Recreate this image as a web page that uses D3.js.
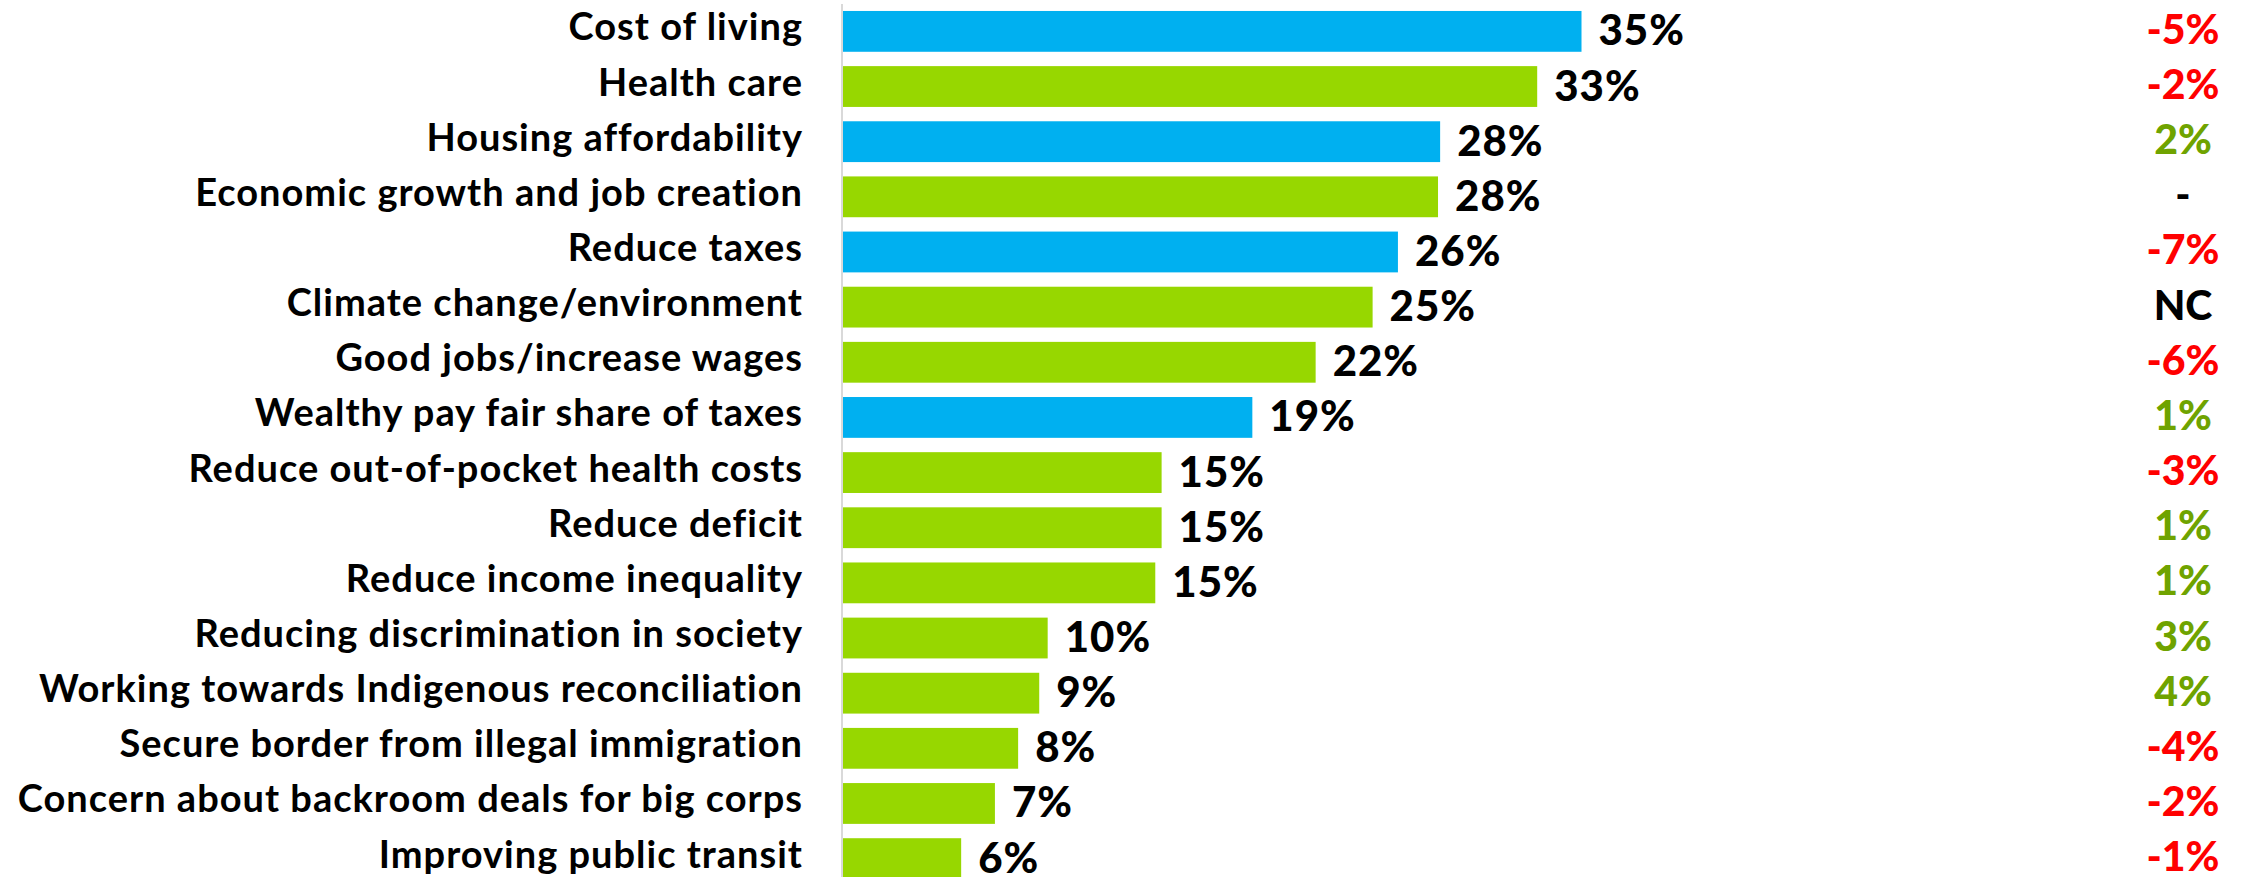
<!DOCTYPE html>
<html>
<head>
<meta charset="utf-8">
<script src="https://cdn.jsdelivr.net/npm/d3@7/dist/d3.min.js"></script>
<style>
  html, body { margin: 0; padding: 0; background: #ffffff; }
  svg { display: block; }
</style>
</head>
<body>
<svg id="chart" width="2249" height="877"></svg>
<script>
// ---- data ----
const categories = [
  "Cost of living",
  "Health care",
  "Housing affordability",
  "Economic growth and job creation",
  "Reduce taxes",
  "Climate change/environment",
  "Good jobs/increase wages",
  "Wealthy pay fair share of taxes",
  "Reduce out-of-pocket health costs",
  "Reduce deficit",
  "Reduce income inequality",
  "Reducing discrimination in society",
  "Working towards Indigenous reconciliation",
  "Secure border from illegal immigration",
  "Concern about backroom deals for big corps",
  "Improving public transit"
];
const values = [35.0, 32.9, 28.3, 28.2, 26.3, 25.1, 22.4, 19.4, 15.1, 15.1, 14.8, 9.7, 9.3, 8.3, 7.2, 5.6];
const highlighted = [
  "Cost of living",
  "Housing affordability",
  "Reduce taxes",
  "Wealthy pay fair share of taxes"
];
const changes = ["-5%", "-2%", "2%", "-", "-7%", "NC", "-6%", "1%", "-3%", "1%", "1%", "3%", "4%", "-4%", "-2%", "-1%"];

// ---- layout ----
const W = 2249, H = 877;
const svg = d3.select("#chart");
svg.append("rect").attr("width", W).attr("height", H).attr("fill", "#ffffff");

const x = d3.scaleLinear().domain([0, 40]).range([843, 843 + 844]);
const y = d3.scaleBand()
  .domain(categories)
  .range([3.8, 3.8 + 55.15 * categories.length])
  .paddingInner(0.26)
  .paddingOuter(0.13);

const data = categories.map((c, i) => ({ cat: c, v: values[i], ch: changes[i] }));

const BLUE = "#00B0F0", GREEN = "#97D700";
const FONT = "Lato, 'Open Sans', sans-serif";

// bars
svg.append("g").selectAll("rect")
  .data(data)
  .join("rect")
  .attr("x", x(0))
  .attr("y", d => y(d.cat))
  .attr("width", d => x(d.v) - x(0))
  .attr("height", y.bandwidth())
  .attr("fill", d => highlighted.includes(d.cat) ? BLUE : GREEN);

// axis line (category axis)
const yAxis = d3.axisLeft(y).tickSize(0).tickFormat("");
const axisG = svg.append("g").attr("transform", `translate(${x(0) - 1},0)`).call(yAxis);
axisG.select(".domain").attr("stroke", "#d9d9d9").attr("stroke-width", 2)
  .attr("d", `M0,4V${H}`);

// category labels
svg.append("g").selectAll("text")
  .data(data)
  .join("text")
  .attr("x", 803)
  .attr("y", d => y(d.cat) + y.bandwidth() / 2 + 9)
  .attr("text-anchor", "end")
  .attr("font-family", FONT)
  .attr("font-weight", 700)
  .attr("font-size", 38)
  .attr("letter-spacing", 1)
  .attr("fill", "#000000")
  .text(d => d.cat);

// value labels
svg.append("g").selectAll("text")
  .data(data)
  .join("text")
  .attr("x", d => x(d.v) + 17)
  .attr("y", d => y(d.cat) + y.bandwidth() / 2 + 14)
  .attr("font-family", FONT)
  .attr("font-weight", 900)
  .attr("font-size", 42)
  .attr("letter-spacing", 1)
  .attr("fill", "#000000")
  .text(d => Math.round(d.v) + "%");

// change column
svg.append("g").selectAll("text")
  .data(data)
  .join("text")
  .attr("x", 2183)
  .attr("y", d => y(d.cat) + y.bandwidth() / 2 + 12.5)
  .attr("text-anchor", "middle")
  .attr("font-family", FONT)
  .attr("font-weight", 900)
  .attr("font-size", 41)
  .attr("fill", d => d.ch.startsWith("-") && d.ch.length > 1 ? "#FF0000"
                   : /^\d/.test(d.ch) ? "#6FA300" : "#000000")
  .text(d => d.ch);
</script>
</body>
</html>
